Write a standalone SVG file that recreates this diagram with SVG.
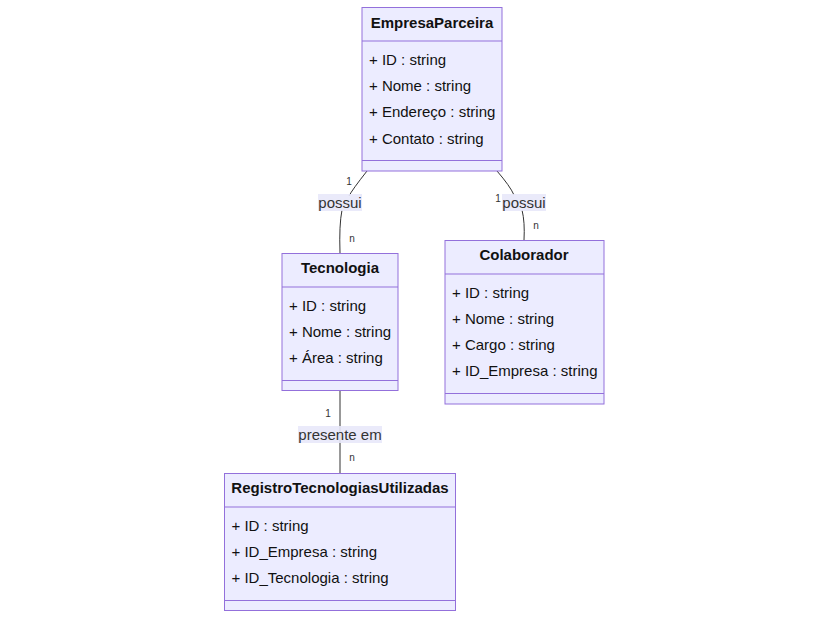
<svg xmlns="http://www.w3.org/2000/svg" width="828" height="618" viewBox="0 0 828 618">
<style>
.box{fill:#ECECFF;stroke:#9370DB;stroke-width:1}
.div{stroke:#9370DB;stroke-width:1}
.title{font-family:"Liberation Sans",Arial,sans-serif;font-size:15px;font-weight:bold;fill:#111;text-anchor:middle}
.mem{font-family:"Liberation Sans",Arial,sans-serif;font-size:15px;fill:#111}
.edge{fill:none;stroke:#333;stroke-width:1}
.lbg{fill:#E8E8FA;opacity:0.9}
.lbl{font-family:"Liberation Sans",Arial,sans-serif;font-size:15px;fill:#333;text-anchor:middle}
.card{font-family:"Liberation Sans",Arial,sans-serif;font-size:10px;fill:#333;text-anchor:middle}
</style>
<rect width="828" height="618" fill="#fff"/>
<g id="connectors">
<path class="edge" d="M367,171 Q352,190 349,196"/>
<path class="edge" d="M342,210 Q339,225 340,253"/>
<path class="edge" d="M497,171 Q510,186 514,195"/>
<path class="edge" d="M522,210 Q525,222 524,240"/>
<path class="edge" d="M340,390 L340,473"/>
<rect class="lbg" x="318" y="194" width="44" height="17"/>
<text class="lbl" x="340" y="208">possui</text>
<rect class="lbg" x="502" y="194" width="44" height="17"/>
<text class="lbl" x="524" y="208">possui</text>
<rect class="lbg" x="298" y="426" width="84" height="17"/>
<text class="lbl" x="340" y="440">presente em</text>
<text class="card" x="349" y="185">1</text>
<text class="card" x="352" y="242">n</text>
<text class="card" x="498" y="202">1</text>
<text class="card" x="536" y="229">n</text>
<text class="card" x="328" y="417">1</text>
<text class="card" x="352" y="461">n</text>
</g>
<g id="EmpresaParceira">
<rect class="box" x="362" y="7.5" width="140" height="163.5"/>
<line class="div" x1="362" y1="41" x2="502" y2="41"/>
<line class="div" x1="362" y1="160.5" x2="502" y2="160.5"/>
<text class="title" x="432" y="28">EmpresaParceira</text>
<text class="mem" x="369" y="65">+ ID : string</text>
<text class="mem" x="369" y="91">+ Nome : string</text>
<text class="mem" x="369" y="117">+ Endereço : string</text>
<text class="mem" x="369" y="144">+ Contato : string</text>
</g>
<g id="Tecnologia">
<rect class="box" x="282" y="253.5" width="116" height="137"/>
<line class="div" x1="282" y1="287" x2="398" y2="287"/>
<line class="div" x1="282" y1="380.5" x2="398" y2="380.5"/>
<text class="title" x="340" y="273">Tecnologia</text>
<text class="mem" x="289" y="311">+ ID : string</text>
<text class="mem" x="289" y="337">+ Nome : string</text>
<text class="mem" x="289" y="363">+ Área : string</text>
</g>
<g id="Colaborador">
<rect class="box" x="445" y="240.5" width="159" height="163.5"/>
<line class="div" x1="445" y1="274" x2="604" y2="274"/>
<line class="div" x1="445" y1="393.5" x2="604" y2="393.5"/>
<text class="title" x="524" y="260">Colaborador</text>
<text class="mem" x="452" y="298">+ ID : string</text>
<text class="mem" x="452" y="324">+ Nome : string</text>
<text class="mem" x="452" y="350">+ Cargo : string</text>
<text class="mem" x="452" y="376">+ ID_Empresa : string</text>
</g>
<g id="RegistroTecnologiasUtilizadas">
<rect class="box" x="224.5" y="473.5" width="231" height="137"/>
<line class="div" x1="224.5" y1="507" x2="455.5" y2="507"/>
<line class="div" x1="224.5" y1="600.5" x2="455.5" y2="600.5"/>
<text class="title" x="340" y="493">RegistroTecnologiasUtilizadas</text>
<text class="mem" x="231.5" y="531">+ ID : string</text>
<text class="mem" x="231.5" y="557">+ ID_Empresa : string</text>
<text class="mem" x="231.5" y="583">+ ID_Tecnologia : string</text>
</g>
</svg>
